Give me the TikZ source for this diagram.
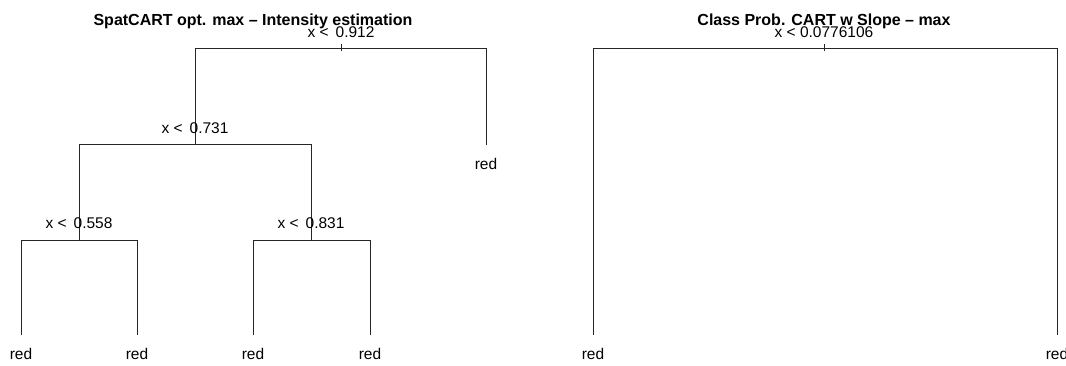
\documentclass[tikz,border=0pt]{standalone}
\usepackage{fontspec}
\setmainfont{Liberation Sans}
\newcommand{\ltsp}{x <\hspace{7pt}}
\begin{document}
\begin{tikzpicture}[x=1pt,y=-1pt,
  br/.style={line width=0.8pt, draw=black!85, line cap=rect},
  lbl/.style={font=\fontsize{15.5}{18}\selectfont, inner sep=0pt, anchor=base},
  ttl/.style={font=\bfseries\fontsize{16}{19}\selectfont, inner sep=0pt, anchor=base}]
\useasboundingbox (0,0) rectangle (1066,365);
% ---------- left tree ----------
\node[ttl] (tA) at (253,25) {SpatCART opt. max -- Intensity estimation};
\coordinate (a0) at (341,48);
\coordinate (a1) at (195,144);
\coordinate (a2) at (486,145);
\coordinate (a3) at (79,240);
\coordinate (a4) at (311,240);
\coordinate (a5) at (21,335);
\coordinate (a6) at (137,335);
\coordinate (a7) at (253,335);
\coordinate (a8) at (370,335);
\draw[br] (a1) -- (a1 |- a0) -- (a2 |- a0) -- (a2);
\draw[br] ([yshift=-3]a0) -- ([yshift=4]a0);
\draw[br] (a3) -- (a3 |- a1) -- (a4 |- a1) -- (a4);
\draw[br] (a5) -- (a5 |- a3) -- (a6 |- a3) -- (a6);
\draw[br] (a7) -- (a7 |- a4) -- (a8 |- a4) -- (a8);
\node[lbl] (s0) at (341,37) {\ltsp 0.912};
\node[lbl] (s1) at (195,133) {\ltsp 0.731};
\node[lbl] (s3) at (79,228) {\ltsp 0.558};
\node[lbl] (s4) at (311,228) {\ltsp 0.831};
\node[lbl] (l2) at (486,169) {red};
\node[lbl] (l5) at (21,359) {red};
\node[lbl] (l6) at (137,359) {red};
\node[lbl] (l7) at (253,359) {red};
\node[lbl] (l8) at (370,359) {red};
% ---------- right tree ----------
\node[ttl] (tB) at (824,25) {Class Prob. CART w Slope -- max};
\coordinate (b0) at (824,48);
\coordinate (b1) at (593,335);
\coordinate (b2) at (1057,335);
\draw[br] (b1) -- (b1 |- b0) -- (b2 |- b0) -- (b2);
\draw[br] ([yshift=-3]b0) -- ([yshift=4]b0);
\node[lbl] (r0) at (824,37) {x < 0.0776106};
\node[lbl] (m1) at (593,359) {red};
\node[lbl] (m2) at (1057,359) {red};
\end{tikzpicture}
\end{document}
